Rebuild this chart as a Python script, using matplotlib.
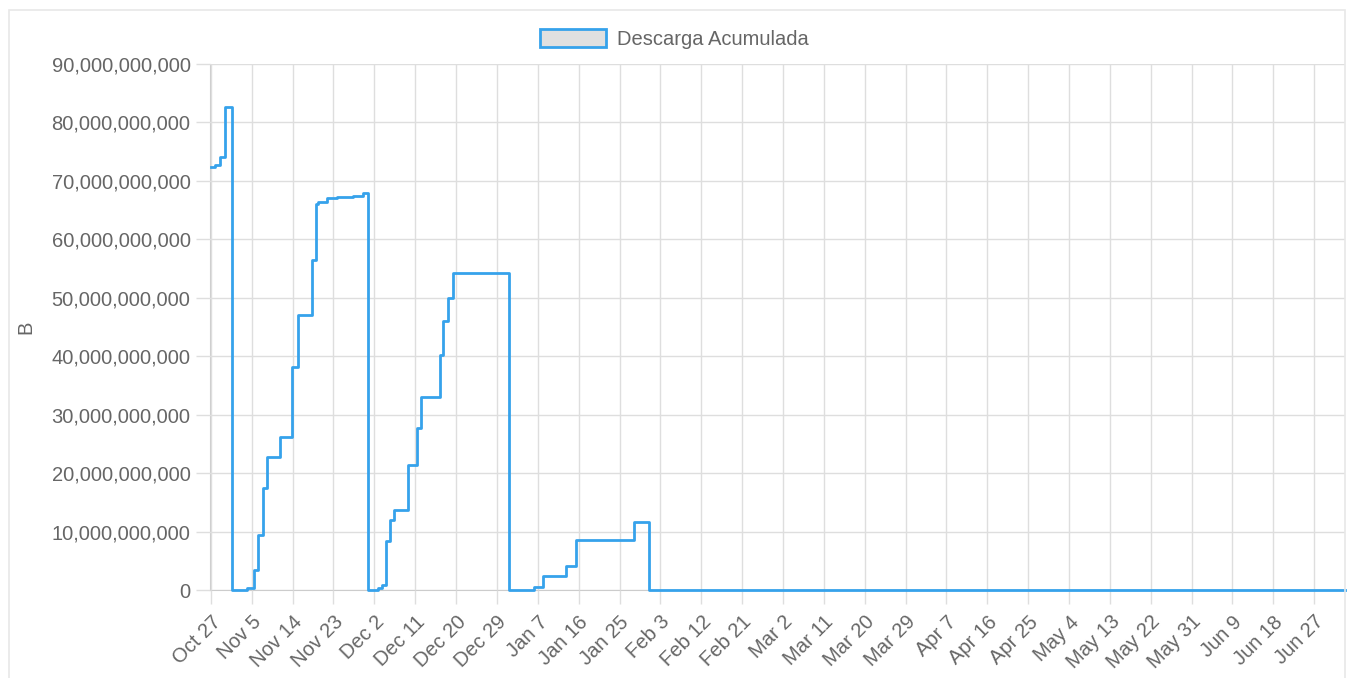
import pandas as pd
import matplotlib
matplotlib.use("Agg")
import matplotlib.pyplot as plt
from matplotlib.patches import Rectangle
from matplotlib.ticker import FuncFormatter

plt.rcParams["font.family"] = ["Liberation Sans", "DejaVu Sans"]

# fecha base y desplazamientos en días
base = pd.Timestamp("2018-10-27")
end_day = 249.8
days = [0.0, 1.0, 2.1, 3.2, 4.6,
        7.9, 9.5, 10.4, 11.4, 12.4, 15.2, 17.8, 19.2, 22.2, 23.1, 23.5,
        25.5, 27.8, 31.3, 33.6, 34.7,
        36.9, 37.7, 38.6, 39.4, 40.3, 43.5, 45.5, 46.3, 50.5, 51.2, 52.3,
        53.4, 65.7,
        71.2, 73.2, 78.2, 80.4, 93.2, 96.6, end_day]
# descarga acumulada en miles de millones de bytes
values_gb = [72.3, 72.7, 74.1, 82.7, 0.0,
             0.3, 3.4, 9.4, 17.4, 22.8, 26.2, 38.2, 47.1, 56.5, 66.0, 66.4,
             67.0, 67.2, 67.5, 67.9, 0.0,
             0.3, 0.9, 8.4, 11.9, 13.7, 21.4, 27.7, 33.1, 40.2, 46.1, 49.9,
             54.3, 0.0,
             0.57, 2.45, 4.1, 8.55, 11.7, 0.0, 0.0]

dates = base + pd.to_timedelta(days, unit="D")
values = [v * 1e9 for v in values_gb]

tick_dates = pd.date_range(base, periods=28, freq="9D")
tick_labels = [f"{d:%b} {d.day}" for d in tick_dates]

fig = plt.figure(figsize=(13.49, 6.78), dpi=100)
ax = fig.add_axes([210 / 1349, 1 - 590 / 678, 1135 / 1349, 526 / 678])

ax.step(dates, values, where="post", color="#36a2eb", lw=2.0,
        zorder=3, clip_on=False)

ax.set_xlim(base - pd.Timedelta(days=0.2), base + pd.Timedelta(days=end_day))
ax.set_ylim(0, 90e9)
ax.set_yticks([i * 10e9 for i in range(10)])
ax.yaxis.set_major_formatter(FuncFormatter(lambda v, p: f"{v:,.0f}"))
ax.set_xticks(tick_dates)
ax.set_xticklabels(tick_labels, rotation=45, ha="right", rotation_mode="anchor")

grid_c = "#dedede"
ax.grid(True, color=grid_c, lw=1.0, zorder=0)
ax.tick_params(axis="both", colors=grid_c, labelcolor="#666666",
               labelsize=14.5, length=10, width=1.0, pad=4)
ax.tick_params(axis="x", pad=6)
for s in ["top", "right"]:
    ax.spines[s].set_visible(False)
ax.spines["left"].set_color("#cccccc")
ax.spines["bottom"].set_color("#cccccc")
ax.spines["left"].set_zorder(1)
ax.spines["bottom"].set_zorder(1)

ax.set_ylabel("B", color="#666666", fontsize=14.5, labelpad=12)

# caja del legend como en chart.js
handle = Rectangle((0, 0), 1, 1, facecolor="#e0e0e0", edgecolor="#36a2eb", lw=2)
fig.legend([handle], ["Descarga Acumulada"], loc="upper center",
           bbox_to_anchor=(0.5, 1 - 11 / 678), frameon=False, fontsize=14.5,
           handlelength=3.3, handleheight=1.0, handletextpad=0.55,
           labelcolor="#666666")

# borde del contenedor
fig.patches.append(Rectangle((9 / 1349, -0.02), (1345 - 9) / 1349, 1.02 - 10 / 678,
                             transform=fig.transFigure, fill=False,
                             edgecolor="#e8e8e8", lw=1.2))

fig.savefig("out.png", dpi=100)
